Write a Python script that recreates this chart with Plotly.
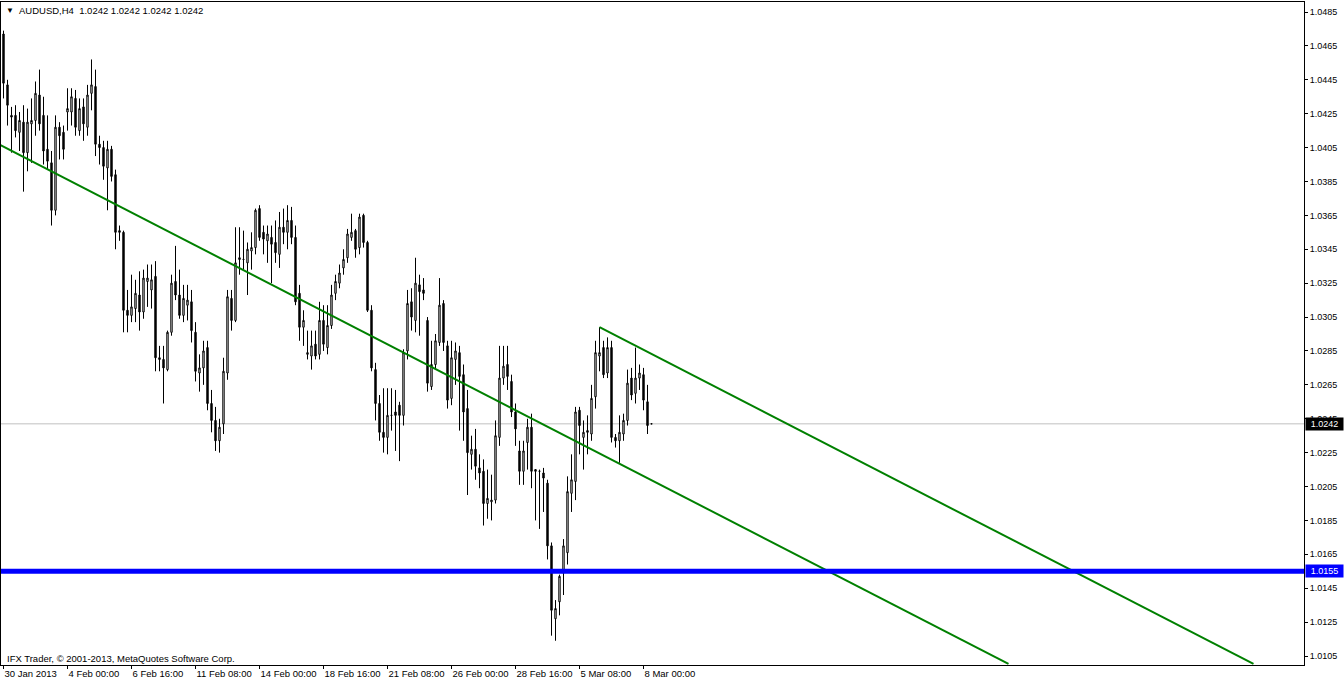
import plotly.graph_objects as go
import pandas as pd

# ---------------- data ----------------
opens = [1.0472,1.0442,1.0424,1.0424,1.0414,1.0420,1.0402,1.0419,1.0421,1.0436,
         1.0424,1.0404,1.0396,1.0368,1.0417,1.0414,1.0426,1.0426,1.0434,1.0415,
         1.0429,1.0417,1.0437,1.0441,1.0407,1.0405,1.0393,1.0404,1.0389,1.0356,
         1.0355,1.0309,1.0306,1.0310,1.0318,1.0308,1.0326,1.0321,1.0329,1.0281,
         1.0280,1.0274,1.0296,1.0326,1.0318,1.0306,1.0312,1.0314,1.0296,1.0272,
         1.0275,1.0287,1.0254,1.0244,1.0232,1.0242,1.0272,1.0316,1.0303,1.0340,
         1.0339,1.0337,1.0344,1.0346,1.0369,1.0355,1.0350,1.0352,1.0349,1.0342,
         1.0358,1.0355,1.0362,1.0352,1.0319,1.0299,1.0283,1.0282,1.0289,1.0283,
         1.0303,1.0287,1.0300,1.0319,1.0325,1.0334,1.0340,1.0352,1.0356,1.0346,
         1.0365,1.0349,1.0309,1.0274,1.0254,1.0237,1.0234,1.0247,1.0249,1.0253,
         1.0247,1.0285,1.0314,1.0303,1.0324,1.0321,1.0303,1.0264,1.0277,1.0290,
         1.0313,1.0288,1.0257,1.0280,1.0284,1.0271,1.0251,1.0224,1.0227,1.0216,
         1.0214,1.0195,1.0196,1.0197,1.0234,1.0269,1.0277,1.0267,1.0249,1.0226,
         1.0214,1.0231,1.0240,1.0215,1.0214,1.0213,1.0207,1.0170,1.0127,1.0137,
         1.0154,1.0166,1.0201,1.0208,1.0250,1.0234,1.0238,1.0236,1.0258,1.0282,
         1.0287,1.0272,1.0287,1.0234,1.0232,1.0236,1.0244,1.0269,1.0260,1.0269,
         1.0271,1.0255,1.0242]
highs = [1.0474,1.0445,1.0429,1.0430,1.0426,1.0430,1.0428,1.0434,1.0444,1.0451,
         1.0435,1.0424,1.0403,1.0424,1.0420,1.0418,1.0440,1.0440,1.0439,1.0434,
         1.0434,1.0442,1.0457,1.0451,1.0412,1.0409,1.0409,1.0406,1.0392,1.0359,
         1.0356,1.0321,1.0330,1.0327,1.0332,1.0333,1.0336,1.0336,1.0338,1.0288,
         1.0288,1.0297,1.0330,1.0347,1.0333,1.0324,1.0324,1.0321,1.0302,1.0283,
         1.0291,1.0291,1.0262,1.0252,1.0245,1.0281,1.0321,1.0321,1.0358,1.0358,
         1.0356,1.0349,1.0355,1.0369,1.0371,1.0359,1.0359,1.0359,1.0362,1.0367,
         1.0369,1.0371,1.0370,1.0359,1.0324,1.0309,1.0297,1.0297,1.0297,1.0314,
         1.0312,1.0312,1.0324,1.0330,1.0336,1.0345,1.0357,1.0366,1.0357,1.0366,
         1.0366,1.0350,1.0312,1.0278,1.0259,1.0263,1.0263,1.0263,1.0262,1.0255,
         1.0286,1.0321,1.0322,1.0340,1.0330,1.0328,1.0305,1.0291,1.0295,1.0328,
         1.0315,1.0291,1.0291,1.0290,1.0288,1.0277,1.0262,1.0235,1.0239,1.0224,
         1.0221,1.0215,1.0212,1.0244,1.0288,1.0288,1.0288,1.0271,1.0254,1.0232,
         1.0232,1.0245,1.0248,1.0215,1.0215,1.0216,1.0209,1.0172,1.0138,1.0153,
         1.0174,1.0211,1.0224,1.0252,1.0252,1.0244,1.0247,1.0265,1.0291,1.0299,
         1.0291,1.0293,1.0291,1.0236,1.0247,1.0248,1.0274,1.0275,1.0287,1.0277,
         1.0275,1.0265,1.0242]
lows = [1.0434,1.0418,1.0402,1.0411,1.0403,1.0379,1.0391,1.0396,1.0412,1.0415,
        1.0395,1.0392,1.0359,1.0365,1.0398,1.0398,1.0415,1.0418,1.0412,1.0412,
        1.0409,1.0412,1.0427,1.0400,1.0395,1.0386,1.0368,1.0385,1.0345,1.0350,
        1.0296,1.0296,1.0302,1.0302,1.0297,1.0304,1.0311,1.0310,1.0273,1.0273,
        1.0254,1.0273,1.0294,1.0315,1.0304,1.0302,1.0303,1.0290,1.0267,1.0261,
        1.0265,1.0250,1.0237,1.0226,1.0225,1.0236,1.0268,1.0297,1.0302,1.0330,
        1.0333,1.0318,1.0333,1.0342,1.0350,1.0342,1.0337,1.0325,1.0337,1.0334,
        1.0348,1.0345,1.0348,1.0312,1.0291,1.0288,1.0280,1.0274,1.0280,1.0280,
        1.0285,1.0283,1.0298,1.0315,1.0322,1.0330,1.0337,1.0350,1.0340,1.0342,
        1.0346,1.0308,1.0273,1.0244,1.0232,1.0225,1.0224,1.0238,1.0226,1.0220,
        1.0241,1.0280,1.0297,1.0296,1.0294,1.0315,1.0261,1.0262,1.0274,1.0288,
        1.0285,1.0251,1.0253,1.0265,1.0238,1.0232,1.0200,1.0215,1.0209,1.0204,
        1.0182,1.0186,1.0185,1.0195,1.0229,1.0265,1.0262,1.0246,1.0229,1.0206,
        1.0206,1.0215,1.0204,1.0185,1.0180,1.0190,1.0162,1.0117,1.0114,1.0129,
        1.0141,1.0159,1.0190,1.0197,1.0224,1.0215,1.0224,1.0232,1.0251,1.0273,
        1.0269,1.0269,1.0231,1.0228,1.0219,1.0232,1.0241,1.0256,1.0254,1.0262,
        1.0250,1.0236,1.0242]
closes = [1.0443,1.0430,1.0423,1.0415,1.0421,1.0402,1.0420,1.0421,1.0437,1.0419,
          1.0403,1.0397,1.0368,1.0417,1.0412,1.0404,1.0428,1.0435,1.0417,1.0428,
          1.0419,1.0436,1.0442,1.0407,1.0405,1.0394,1.0404,1.0388,1.0355,1.0355,
          1.0309,1.0306,1.0311,1.0319,1.0308,1.0328,1.0328,1.0327,1.0281,1.0280,
          1.0275,1.0296,1.0325,1.0318,1.0306,1.0316,1.0315,1.0297,1.0273,1.0275,
          1.0285,1.0254,1.0244,1.0232,1.0240,1.0273,1.0317,1.0303,1.0337,1.0339,
          1.0339,1.0345,1.0346,1.0368,1.0352,1.0351,1.0354,1.0348,1.0343,1.0358,
          1.0355,1.0362,1.0352,1.0314,1.0299,1.0303,1.0284,1.0288,1.0282,1.0303,
          1.0289,1.0300,1.0318,1.0326,1.0331,1.0339,1.0354,1.0355,1.0345,1.0364,
          1.0349,1.0309,1.0275,1.0254,1.0237,1.0234,1.0247,1.0247,1.0247,1.0247,
          1.0284,1.0313,1.0305,1.0325,1.0320,1.0319,1.0266,1.0277,1.0291,1.0312,
          1.0290,1.0256,1.0281,1.0285,1.0270,1.0249,1.0225,1.0227,1.0217,1.0213,
          1.0195,1.0198,1.0197,1.0235,1.0269,1.0276,1.0270,1.0249,1.0239,1.0214,
          1.0226,1.0240,1.0214,1.0214,1.0214,1.0210,1.0170,1.0132,1.0133,1.0152,
          1.0170,1.0202,1.0209,1.0249,1.0241,1.0237,1.0237,1.0257,1.0284,1.0284,
          1.0271,1.0287,1.0234,1.0232,1.0237,1.0244,1.0266,1.0259,1.0269,1.0272,
          1.0256,1.0241,1.0242]

first_bar = "2013-01-30 08:00"   # H4 bars, weekdays only
tick_dates = ["2013-01-30 08:00", "2013-02-04 00:00", "2013-02-06 16:00", "2013-02-11 08:00",
              "2013-02-14 00:00", "2013-02-18 16:00", "2013-02-21 08:00", "2013-02-26 00:00",
              "2013-02-28 16:00", "2013-03-05 08:00", "2013-03-08 00:00"]
tick_labels = ["30 Jan 2013", "4 Feb 00:00", "6 Feb 16:00", "11 Feb 08:00", "14 Feb 00:00",
               "18 Feb 16:00", "21 Feb 08:00", "26 Feb 00:00", "28 Feb 16:00",
               "5 Mar 08:00", "8 Mar 00:00"]
price_ticks = [1.0105, 1.0125, 1.0145, 1.0165, 1.0185, 1.0205, 1.0225, 1.0245, 1.0265,
               1.0285, 1.0305, 1.0325, 1.0345, 1.0365, 1.0385, 1.0405, 1.0425, 1.0445,
               1.0465, 1.0485]
last_price = 1.0242
support_level = 1.0155
# trend channel: (bar index, price) anchor pairs
trend_upper = [(149, 1.0299), (312.5, 1.01003)]
trend_lower = [(-0.75, 1.04065), (251.25, 1.01003)]
symbol_title = "AUDUSD,H4  1.0242 1.0242 1.0242 1.0242"
footer = "IFX Trader, \u00a9 2001-2013, MetaQuotes Software Corp."

# ---------------- build ----------------
all_times = pd.date_range(first_bar, periods=400, freq="4h")
all_times = all_times[all_times.dayofweek < 5][:len(opens)]
date_keys = [t.strftime("%Y-%m-%d %H:%M") for t in all_times]
xi = list(range(len(opens)))
tickvals = [date_keys.index(d) for d in tick_dates]

W, H = 1344, 683
ML, MR, MT, MB = 1, 40, 2, 18
PW, PH = W - ML - MR, H - MT - MB

def px_x(p):
    return (p - ML) / PW

def px_y(p):
    return 1 - (p - MT) / PH

FONT = "Liberation Sans"
FS = 9.5

fig = go.Figure()

fig.add_trace(go.Candlestick(
    x=xi, open=opens, high=highs, low=lows, close=closes,
    increasing=dict(line=dict(color="black", width=1), fillcolor="white"),
    decreasing=dict(line=dict(color="black", width=1), fillcolor="black"),
    whiskerwidth=0, hoverinfo="skip", showlegend=False,
))

for seg in (trend_lower, trend_upper):
    fig.add_trace(go.Scatter(
        x=[seg[0][0], seg[1][0]], y=[seg[0][1], seg[1][1]], mode="lines",
        line=dict(color="#008000", width=2), hoverinfo="skip", showlegend=False,
    ))

fig.add_shape(type="line", xref="paper", yref="y", x0=0, x1=1, y0=last_price, y1=last_price,
              line=dict(color="#C0C0C0", width=1), layer="below")
fig.add_shape(type="line", xref="paper", yref="y", x0=0, x1=1, y0=support_level, y1=support_level,
              line=dict(color="#0000FF", width=5))

fig.update_layout(
    width=W, height=H,
    margin=dict(l=ML, r=MR, t=MT, b=MB, pad=0, autoexpand=False),
    paper_bgcolor="white", plot_bgcolor="white",
    font=dict(family=FONT, size=FS, color="black"),
    boxgap=0.5,
    xaxis=dict(
        range=[-0.625, 325.125], rangeslider=dict(visible=False),
        showgrid=False, zeroline=False, automargin=False,
        showline=True, linecolor="black", linewidth=1, mirror=True,
        tickmode="array", tickvals=tickvals, ticktext=tick_labels,
        ticks="outside", ticklen=3, tickcolor="black", tickwidth=1,
        ticklabelposition="outside right", tickangle=0,
        tickfont=dict(family=FONT, size=FS, color="black"),
        fixedrange=True,
    ),
    yaxis=dict(
        range=[1.00997, 1.04909], side="right",
        showgrid=False, zeroline=False, automargin=False,
        showline=True, linecolor="black", linewidth=1, mirror=True,
        tickmode="array", tickvals=price_ticks, ticktext=[f"{v:.4f}" for v in price_ticks],
        ticks="outside", ticklen=3, tickcolor="black", tickwidth=1,
        tickfont=dict(family=FONT, size=9, color="black"),
        fixedrange=True,
    ),
    showlegend=False,
)

annotations = [
    dict(text="\u25bc", x=px_x(4), y=px_y(11), xref="paper", yref="paper",
         xanchor="left", yanchor="middle", showarrow=False, font=dict(size=8, color="black")),
    dict(text=symbol_title, x=px_x(17), y=px_y(11), xref="paper", yref="paper",
         xanchor="left", yanchor="middle", showarrow=False, font=dict(size=FS, color="black")),
    dict(text=footer, x=px_x(5), y=px_y(658), xref="paper", yref="paper",
         xanchor="left", yanchor="middle", showarrow=False, font=dict(size=FS, color="black")),
    dict(text=f"{last_price:.4f}", x=1.0, y=last_price, xref="paper", yref="y",
         xanchor="left", yanchor="middle", showarrow=False, xshift=1,
         bgcolor="black", font=dict(size=9, color="white"), borderpad=1, width=35),
    dict(text=f"{support_level:.4f}", x=1.0, y=support_level, xref="paper", yref="y",
         xanchor="left", yanchor="middle", showarrow=False, xshift=1,
         bgcolor="#0000FF", font=dict(size=9, color="white"), borderpad=1, width=35),
]
fig.update_layout(annotations=annotations)

fig.write_html("out.html", config=dict(displayModeBar=False),
               post_script="document.body.style.margin='0';document.body.style.overflow='hidden';")
